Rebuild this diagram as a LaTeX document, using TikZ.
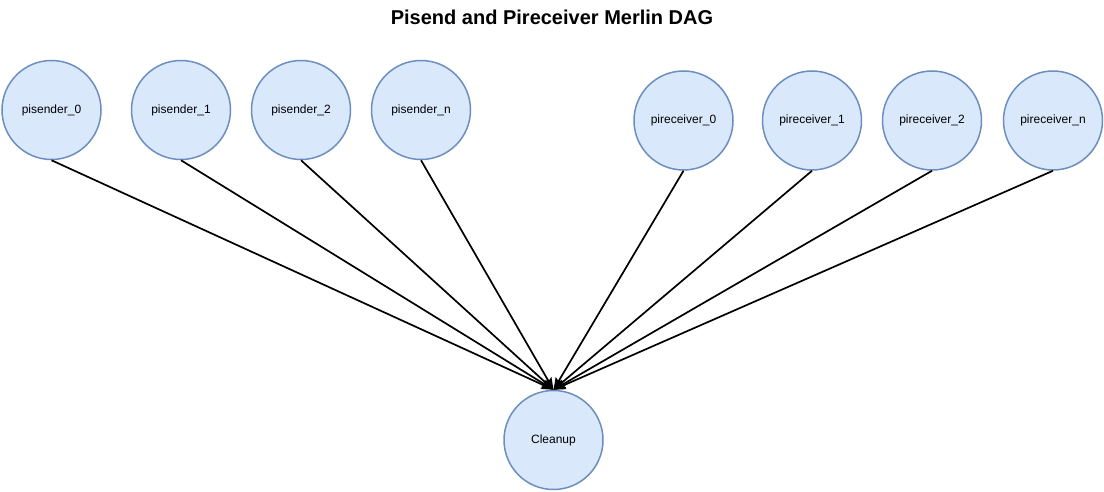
\documentclass[tikz,border=0pt]{standalone}
\usepackage{fontspec}
\setmainfont{Liberation Sans}
\usetikzlibrary{arrows.meta}
\definecolor{nodefill}{HTML}{DAE8FC}
\definecolor{nodeline}{HTML}{6C8EBF}
\begin{document}
\begin{tikzpicture}[x=1pt,y=-1pt,
  dagnode/.style={circle,draw=nodeline,fill=nodefill,line width=1.5pt,minimum size=99pt,inner sep=0pt,font=\fontsize{12}{14}\selectfont},
  dagedge/.style={draw=black,line width=1.7pt,-{Stealth[length=12pt,width=9pt,inset=2pt]}}]
\useasboundingbox (0,0) rectangle (1104,492);
\node[font=\bfseries\fontsize{20}{24}\selectfont] (title) at (552,17) {Pisend and Pireceiver Merlin DAG};
\node[dagnode] (s0) at (51.5,110) {pisender\_0};
\node[dagnode] (s1) at (181,110) {pisender\_1};
\node[dagnode] (s2) at (301,110) {pisender\_2};
\node[dagnode] (sn) at (421,110) {pisender\_n};
\node[dagnode] (r0) at (683.5,120.5) {pireceiver\_0};
\node[dagnode] (r1) at (812,120.5) {pireceiver\_1};
\node[dagnode] (r2) at (932,120.5) {pireceiver\_2};
\node[dagnode] (rn) at (1053,120.5) {pireceiver\_n};
\node[dagnode] (c) at (553.5,440) {Cleanup};
\foreach \n in {s0,s1,s2,sn,r0,r1,r2,rn}
  \draw[dagedge] (\n.south) -- (c.north);
\end{tikzpicture}
\end{document}
